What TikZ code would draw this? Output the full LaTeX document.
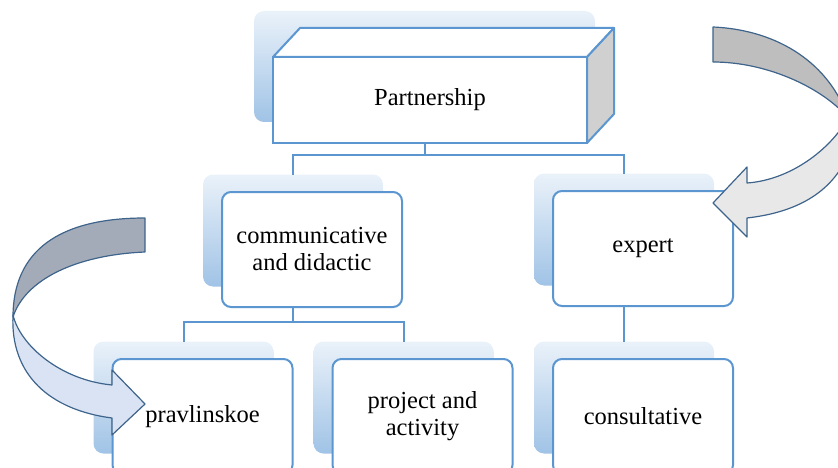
\documentclass[tikz,border=0pt]{standalone}
\usepackage{fontspec}
\setmainfont{Liberation Serif}
\usetikzlibrary{calc,backgrounds}
\definecolor{boxline}{RGB}{91,150,208}
\definecolor{shadowblue}{RGB}{160,195,230}
\definecolor{arrline}{RGB}{62,100,140}
\definecolor{sidegray}{RGB}{208,208,208}
\tikzset{
  lbl/.style={font=\fontsize{24.5}{27}\selectfont, align=center},
  box/.style={lbl, draw=boxline, line width=2pt, rounded corners=9pt, fill=white,
    minimum width=180pt, minimum height=115pt, outer sep=0pt},
  cube/.style={lbl, draw=boxline, line width=2pt, fill=white,
    minimum width=314pt, minimum height=86pt, outer sep=0pt},
  shbox/.style={rounded corners=10pt, top color=shadowblue!22!white, bottom color=shadowblue,
    minimum width=180pt, minimum height=112pt, outer sep=0pt},
  conn/.style={draw=boxline, line width=2pt},
  ribbon/.style={draw=arrline, line width=1.2pt, line join=round}
}
\begin{document}
\begin{tikzpicture}[x=1pt, y=-1pt]
	\useasboundingbox (0,0) rectangle (838,468);
	\clip (0,0) rectangle (838,468);
	% boxes
	\node[cube] (part) at (430,100) {Partnership};
	\draw[conn, fill=white, line join=round] (part.north west) -- ++(27,-29) -- ($(part.north east)+(27,-29)$) -- (part.north east) -- cycle;
	\draw[conn, fill=sidegray, line join=round] (part.north east) -- ++(27,-29) -- ($(part.south east)+(27,-29)$) -- (part.south east) -- cycle;
	\node[box] (comm) at (312,249.5) {communicative\\and didactic};
	\node[box] (exp) at (643,248.5) {expert};
	\node[box] (prav) at (202.5,416.5) {pravlinskoe};
	\node[box] (proj) at (422.5,416.5) {project and\\activity};
	\node[box] (cons) at (643,416.5) {consultative};
	% shadows and links behind
	\begin{pgfonlayer}{background}
		\node[shbox, minimum width=341pt, minimum height=111pt] (part-sh) at ($(part)+(-5.5,-33.5)$) {};
		\foreach \n in {comm,exp,prav,proj,cons}
			\node[shbox] (\n-sh) at ($(\n)+(-19,-19)$) {};
		\draw[conn] (part-sh.south) -- ++(0,33) -| (comm-sh.north);
		\draw[conn] (part-sh.south) -- ++(0,33) -| (exp-sh.north);
		\draw[conn] (comm-sh.south) -- ++(0,35) -| (prav-sh.north);
		\draw[conn] (comm-sh.south) -- ++(0,35) -| (proj-sh.north);
		\draw[conn] (exp-sh.south) -- (cons-sh.north);
	\end{pgfonlayer}
	% curved arrow on the left
	\draw[ribbon, fill={rgb,255:red,164;green,171;blue,184}] (145,218) .. controls (60,218) and (13,250) .. (13,317)
		.. controls (25,280) and (75,255) .. (145,252) -- cycle;
	\draw[ribbon, fill={rgb,255:red,218;green,227;blue,243}] (13,315) .. controls (20,345) and (60,380) .. (112,385)
		-- (112,370) -- (145,404) -- (112,435) -- (112,418) .. controls (50,410) and (10,375) .. (13,315) -- cycle;
	% curved arrow on the right
	\draw[ribbon, fill={rgb,255:red,190;green,190;blue,190}] (713,27) .. controls (780,30) and (830,65) .. (848,118)
		.. controls (825,90) and (770,62) .. (713,62) -- cycle;
	\draw[ribbon, fill={rgb,255:red,232;green,232;blue,232}] (848,118) .. controls (830,150) and (790,180) .. (747,183)
		-- (747,167) -- (713,203) -- (747,237) -- (747,218) .. controls (800,212) and (835,190) .. (850,150) -- cycle;
\end{tikzpicture}
\end{document}
